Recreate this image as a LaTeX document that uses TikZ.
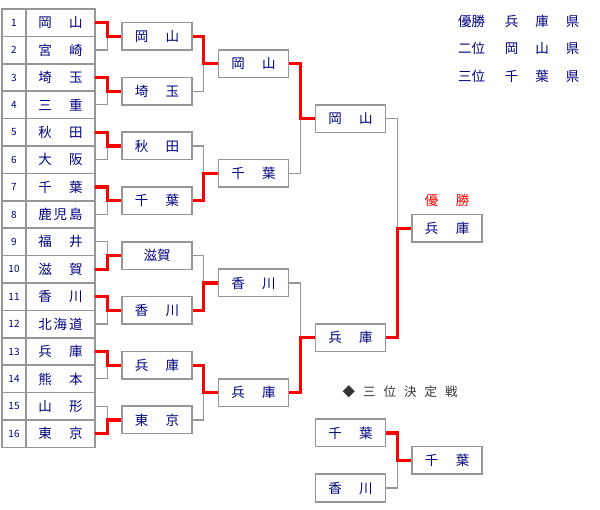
\documentclass[tikz,border=0pt]{standalone}
\usepackage{fontspec}
\setmainfont{Noto Sans CJK JP}
\usetikzlibrary{positioning}
\definecolor{navy}{RGB}{0,0,128}
\definecolor{frame}{RGB}{150,150,150}
\definecolor{heading}{RGB}{51,51,51}
\newcommand{\ken}[1]{\makebox[44.5pt][s]{#1}}
\newcommand{\juni}[3]{#1\hspace{19.75pt}#2\hspace{17pt}#3\hspace{17pt}県}

\begin{document}
\begin{tikzpicture}[
  x=1pt, y=-1pt,
  font=\fontsize{13.5}{16}\selectfont,
  node distance=0pt,
  cell/.style={draw=frame, line width=1.5pt, text=navy, minimum height=27.4pt, inner sep=0pt, outer sep=0pt},
  num/.style={cell, minimum width=24pt, font=\fontsize{10}{12}\selectfont},
  team/.style={cell, minimum width=69pt},
  box/.style={draw=frame, line width=1.5pt, fill=white, text=navy, minimum width=70pt, minimum height=27.5pt, inner sep=0pt},
  win/.style={draw=red, line width=3.3pt},
  lose/.style={draw=frame, line width=1.2pt},
  legend/.style={text=navy, anchor=west, inner sep=0pt}
]
\useasboundingbox (0,0) rectangle (600,510);

% entry table
\node[num] (n1) at (14,22.7) {1};
\node[team, right=of n1] (t1) {\ken{岡\hfill 山}};
\node[num, below=of n1] (n2) {2};
\node[team, right=of n2] (t2) {\ken{宮\hfill 崎}};
\node[num, below=of n2] (n3) {3};
\node[team, right=of n3] (t3) {\ken{埼\hfill 玉}};
\node[num, below=of n3] (n4) {4};
\node[team, right=of n4] (t4) {\ken{三\hfill 重}};
\node[num, below=of n4] (n5) {5};
\node[team, right=of n5] (t5) {\ken{秋\hfill 田}};
\node[num, below=of n5] (n6) {6};
\node[team, right=of n6] (t6) {\ken{大\hfill 阪}};
\node[num, below=of n6] (n7) {7};
\node[team, right=of n7] (t7) {\ken{千\hfill 葉}};
\node[num, below=of n7] (n8) {8};
\node[team, right=of n8] (t8) {\ken{鹿\hfill 児\hfill 島}};
\node[num, below=of n8] (n9) {9};
\node[team, right=of n9] (t9) {\ken{福\hfill 井}};
\node[num, below=of n9] (n10) {10};
\node[team, right=of n10] (t10) {\ken{滋\hfill 賀}};
\node[num, below=of n10] (n11) {11};
\node[team, right=of n11] (t11) {\ken{香\hfill 川}};
\node[num, below=of n11] (n12) {12};
\node[team, right=of n12] (t12) {\ken{北\hfill 海\hfill 道}};
\node[num, below=of n12] (n13) {13};
\node[team, right=of n13] (t13) {\ken{兵\hfill 庫}};
\node[num, below=of n13] (n14) {14};
\node[team, right=of n14] (t14) {\ken{熊\hfill 本}};
\node[num, below=of n14] (n15) {15};
\node[team, right=of n15] (t15) {\ken{山\hfill 形}};
\node[num, below=of n15] (n16) {16};
\node[team, right=of n16] (t16) {\ken{東\hfill 京}};

% second round
\node[box] (a1) at (157,36.4) {\ken{岡\hfill 山}};
\node[box] (a2) at (157,91.2) {\ken{埼\hfill 玉}};
\node[box] (a3) at (157,146) {\ken{秋\hfill 田}};
\node[box] (a4) at (157,200.8) {\ken{千\hfill 葉}};
\node[box] (a5) at (157,255.6) {滋賀};
\node[box] (a6) at (157,310.4) {\ken{香\hfill 川}};
\node[box] (a7) at (157,365.2) {\ken{兵\hfill 庫}};
\node[box] (a8) at (157,420) {\ken{東\hfill 京}};

% quarter and semi finals
\node[box] (b1) at (253.5,63.8) {\ken{岡\hfill 山}};
\node[box] (b2) at (253.5,173.4) {\ken{千\hfill 葉}};
\node[box] (b3) at (253.5,283) {\ken{香\hfill 川}};
\node[box] (b4) at (253.5,392.6) {\ken{兵\hfill 庫}};
\node[box] (c1) at (350.5,118.6) {\ken{岡\hfill 山}};
\node[box] (c2) at (350.5,337.8) {\ken{兵\hfill 庫}};

% champion
\node[box] (champ) at (447,228.2) {\ken{兵\hfill 庫}};
\node[text=red] (yusho) at (447,200) {\ken{優\hfill 勝}};

% third place match
\node[text=heading, font=\fontsize{12.5}{15}\selectfont] (sanihead) at (400,392)
  {◆\hspace{8pt}三\hspace{8pt}位\hspace{8pt}決\hspace{8pt}定\hspace{8pt}戦};
\node[box] (s1) at (350.5,433) {\ken{千\hfill 葉}};
\node[box] (s2) at (350.5,488) {\ken{香\hfill 川}};
\node[box] (s3) at (447,460.5) {\ken{千\hfill 葉}};

% result list
\node[legend] (leg1) at (458,21.7) {\juni{優勝}{兵}{庫}};
\node[legend] (leg2) at (458,48.3) {\juni{二位}{岡}{山}};
\node[legend] (leg3) at (458,76.5) {\juni{三位}{千}{葉}};

% losers
\draw[lose] (t2.east) -| ([xshift=-14pt]a1.west);
\draw[lose] (t4.east) -| ([xshift=-14pt]a2.west);
\draw[lose] (t6.east) -| ([xshift=-14pt]a3.west);
\draw[lose] (t8.east) -| ([xshift=-14pt]a4.west);
\draw[lose] (t9.east) -| ([xshift=-14pt]a5.west);
\draw[lose] (t12.east) -| ([xshift=-14pt]a6.west);
\draw[lose] (t14.east) -| ([xshift=-14pt]a7.west);
\draw[lose] (t15.east) -| ([xshift=-14pt]a8.west);
\draw[lose] (a2.east) -| ([xshift=-14pt]b1.west);
\draw[lose] (a3.east) -| ([xshift=-14pt]b2.west);
\draw[lose] (a5.east) -| ([xshift=-14pt]b3.west);
\draw[lose] (a8.east) -| ([xshift=-14pt]b4.west);
\draw[lose] (b2.east) -| ([xshift=-14pt]c1.west);
\draw[lose] (b3.east) -| ([xshift=-14pt]c2.west);
\draw[lose] (c1.east) -| ([xshift=-14pt]champ.west);
\draw[lose] (s2.east) -| ([xshift=-14pt]s3.west);

% winners
\draw[win] (t1.east) -| ([xshift=-14pt]a1.west) -- (a1.west);
\draw[win] (t3.east) -| ([xshift=-14pt]a2.west) -- (a2.west);
\draw[win] (t5.east) -| ([xshift=-14pt]a3.west) -- (a3.west);
\draw[win] (t7.east) -| ([xshift=-14pt]a4.west) -- (a4.west);
\draw[win] (t10.east) -| ([xshift=-14pt]a5.west) -- (a5.west);
\draw[win] (t11.east) -| ([xshift=-14pt]a6.west) -- (a6.west);
\draw[win] (t13.east) -| ([xshift=-14pt]a7.west) -- (a7.west);
\draw[win] (t16.east) -| ([xshift=-14pt]a8.west) -- (a8.west);
\draw[win] (a1.east) -| ([xshift=-14pt]b1.west) -- (b1.west);
\draw[win] (a4.east) -| ([xshift=-14pt]b2.west) -- (b2.west);
\draw[win] (a6.east) -| ([xshift=-14pt]b3.west) -- (b3.west);
\draw[win] (a7.east) -| ([xshift=-14pt]b4.west) -- (b4.west);
\draw[win] (b1.east) -| ([xshift=-14pt]c1.west) -- (c1.west);
\draw[win] (b4.east) -| ([xshift=-14pt]c2.west) -- (c2.west);
\draw[win] (c2.east) -| ([xshift=-14pt]champ.west) -- (champ.west);
\draw[win] (s1.east) -| ([xshift=-14pt]s3.west) -- (s3.west);
\end{tikzpicture}
\end{document}
